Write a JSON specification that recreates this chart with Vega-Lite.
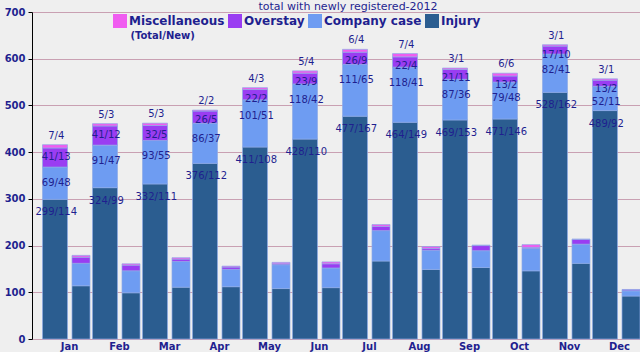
{
  "$schema": "https://vega.github.io/schema/vega-lite/v6.json",
  "width": 608,
  "height": 327,
  "autosize": {"type": "none"},
  "padding": {"left": 32, "top": 12, "right": 0, "bottom": 13},
  "background": "#efefef",
  "title": {
    "text": "total with newly registered-2012",
    "font": "DejaVu Sans",
    "fontSize": 11,
    "fontWeight": "normal",
    "color": "#1f1f8f",
    "anchor": "middle",
    "dx": 12,
    "dy": 5,
    "offset": 0
  },
  "data": {
    "values": [
      {"month": "Jan", "category": "Injury", "Total": 299, "New": 114},
      {"month": "Jan", "category": "Company case", "Total": 69, "New": 48},
      {"month": "Jan", "category": "Overstay", "Total": 41, "New": 13},
      {"month": "Jan", "category": "Miscellaneous", "Total": 7, "New": 4},
      {"month": "Feb", "category": "Injury", "Total": 324, "New": 99},
      {"month": "Feb", "category": "Company case", "Total": 91, "New": 47},
      {"month": "Feb", "category": "Overstay", "Total": 41, "New": 12},
      {"month": "Feb", "category": "Miscellaneous", "Total": 5, "New": 3},
      {"month": "Mar", "category": "Injury", "Total": 332, "New": 111},
      {"month": "Mar", "category": "Company case", "Total": 93, "New": 55},
      {"month": "Mar", "category": "Overstay", "Total": 32, "New": 5},
      {"month": "Mar", "category": "Miscellaneous", "Total": 5, "New": 3},
      {"month": "Apr", "category": "Injury", "Total": 376, "New": 112},
      {"month": "Apr", "category": "Company case", "Total": 86, "New": 37},
      {"month": "Apr", "category": "Overstay", "Total": 26, "New": 5},
      {"month": "Apr", "category": "Miscellaneous", "Total": 2, "New": 2},
      {"month": "May", "category": "Injury", "Total": 411, "New": 108},
      {"month": "May", "category": "Company case", "Total": 101, "New": 51},
      {"month": "May", "category": "Overstay", "Total": 22, "New": 2},
      {"month": "May", "category": "Miscellaneous", "Total": 4, "New": 3},
      {"month": "Jun", "category": "Injury", "Total": 428, "New": 110},
      {"month": "Jun", "category": "Company case", "Total": 118, "New": 42},
      {"month": "Jun", "category": "Overstay", "Total": 23, "New": 9},
      {"month": "Jun", "category": "Miscellaneous", "Total": 5, "New": 4},
      {"month": "Jul", "category": "Injury", "Total": 477, "New": 167},
      {"month": "Jul", "category": "Company case", "Total": 111, "New": 65},
      {"month": "Jul", "category": "Overstay", "Total": 26, "New": 9},
      {"month": "Jul", "category": "Miscellaneous", "Total": 6, "New": 4},
      {"month": "Aug", "category": "Injury", "Total": 464, "New": 149},
      {"month": "Aug", "category": "Company case", "Total": 118, "New": 41},
      {"month": "Aug", "category": "Overstay", "Total": 22, "New": 4},
      {"month": "Aug", "category": "Miscellaneous", "Total": 7, "New": 4},
      {"month": "Sep", "category": "Injury", "Total": 469, "New": 153},
      {"month": "Sep", "category": "Company case", "Total": 87, "New": 36},
      {"month": "Sep", "category": "Overstay", "Total": 21, "New": 11},
      {"month": "Sep", "category": "Miscellaneous", "Total": 3, "New": 1},
      {"month": "Oct", "category": "Injury", "Total": 471, "New": 146},
      {"month": "Oct", "category": "Company case", "Total": 79, "New": 48},
      {"month": "Oct", "category": "Overstay", "Total": 13, "New": 2},
      {"month": "Oct", "category": "Miscellaneous", "Total": 6, "New": 6},
      {"month": "Nov", "category": "Injury", "Total": 528, "New": 162},
      {"month": "Nov", "category": "Company case", "Total": 82, "New": 41},
      {"month": "Nov", "category": "Overstay", "Total": 17, "New": 10},
      {"month": "Nov", "category": "Miscellaneous", "Total": 3, "New": 1},
      {"month": "Dec", "category": "Injury", "Total": 489, "New": 92},
      {"month": "Dec", "category": "Company case", "Total": 52, "New": 11},
      {"month": "Dec", "category": "Overstay", "Total": 13, "New": 2},
      {"month": "Dec", "category": "Miscellaneous", "Total": 3, "New": 1}
    ]
  },
  "transform": [
    {"fold": ["Total", "New"], "as": ["type", "value"]},
    {"stack": "value", "groupby": ["month", "type"], "as": ["v0", "v1"]}
  ],
  "encoding": {
    "x": {
      "field": "month",
      "type": "nominal",
      "sort": ["Jan","Feb","Mar","Apr","May","Jun","Jul","Aug","Sep","Oct","Nov","Dec"],
      "scale": {"paddingInner": 0.1, "paddingOuter": 0.13, "align": 1},
      "axis": {
        "title": null,
        "domain": false,
        "ticks": false,
        "labelAngle": 0,
        "labelFont": "DejaVu Sans",
        "labelFontSize": 10,
        "labelFontWeight": "bold",
        "labelColor": "#1f1f8f",
        "labelPadding": 2,
        "labelOffset": 2
      }
    },
    "xOffset": {
      "field": "type",
      "type": "nominal",
      "scale": {"domain": ["Total", "New"], "paddingInner": 0, "paddingOuter": 0}
    }
  },
  "layer": [
    {
      "transform": [{"filter": "datum.type === 'Total'"}],
      "mark": {"type": "bar", "width": {"band": 1.111}, "stroke": "#8eaae6", "strokeWidth": 0.7},
      "encoding": {
        "y": {
          "field": "v1",
          "type": "quantitative",
          "scale": {"domain": [0, 700], "nice": false},
          "axis": {
            "title": null,
            "values": [0, 100, 200, 300, 400, 500, 600, 700],
            "grid": true,
            "gridColor": "#c9a0b2",
            "gridWidth": 1,
            "gridOpacity": 1,
            "domainColor": "#000000",
            "domainWidth": 1,
            "tickColor": "#000000",
            "tickSize": 4,
            "labelFont": "DejaVu Sans",
            "labelFontSize": 10,
            "labelFontWeight": "bold",
            "labelColor": "#1f1f8f",
            "labelPadding": 3
          }
        },
        "y2": {"field": "v0"},
        "color": {
          "field": "category",
          "type": "nominal",
          "scale": {
            "domain": ["Miscellaneous", "Overstay", "Company case", "Injury"],
            "range": ["#f05cf0", "#9a3df2", "#6e9cf2", "#2b5d90"]
          },
          "legend": {
            "orient": "none",
            "legendX": 81,
            "legendY": 2,
            "direction": "horizontal",
            "title": "\u200b\u00a0\u00a0\u00a0\u00a0\u00a0(Total/New)",
            "titleOrient": "bottom",
            "titleAnchor": "start",
            "titleFont": "DejaVu Sans",
            "titleFontSize": 10,
            "titleFontWeight": "bold",
            "titleColor": "#1f1f8f",
            "titlePadding": 3,
            "symbolType": "square",
            "symbolSize": 196,
            "symbolStrokeWidth": 0,
            "symbolOpacity": 1,
            "labelFont": "DejaVu Sans",
            "labelFontSize": 12,
            "labelFontWeight": "bold",
            "labelColor": "#1f1f8f",
            "labelOffset": 2,
            "columnPadding": 3
          }
        }
      }
    },
    {
      "transform": [{"filter": "datum.type === 'New'"}],
      "mark": {"type": "bar", "width": {"band": 0.8}, "stroke": "#8eaae6", "strokeWidth": 0.7},
      "encoding": {
        "y": {"field": "v1", "type": "quantitative"},
        "y2": {"field": "v0"},
        "color": {"field": "category", "type": "nominal"}
      }
    },
    {
      "transform": [{"filter": "datum.type === 'Total'"}],
      "mark": {
        "type": "text",
        "font": "DejaVu Sans",
        "fontSize": 10,
        "color": "#1f1f8f",
        "baseline": "middle",
        "align": "center",
        "text": {"expr": "datum.Total + '/' + datum.New"},
        "dy": {"expr": "datum.category === 'Miscellaneous' ? -9 : datum.category === 'Company case' ? 16 : datum.category === 'Overstay' ? 9 : 13"}
      },
      "encoding": {
        "y": {"field": "v1", "type": "quantitative"}
      }
    }
  ],
  "config": {
    "view": {"stroke": null}
  }
}
